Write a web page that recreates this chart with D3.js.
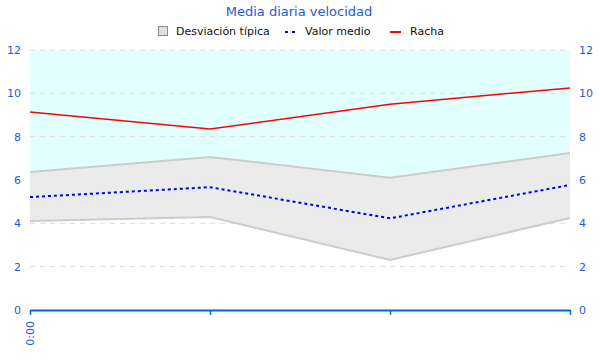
<!DOCTYPE html>
<html><head><meta charset="utf-8">
<script src="https://cdn.jsdelivr.net/npm/d3@7"></script>
<style>body{margin:0;background:#fff}svg{display:block;font-family:"DejaVu Sans",sans-serif}</style>
</head><body><svg id="c" width="600" height="360"></svg>
<script>
const categories = ["0:00", "", "", ""];
const stdUpper = [6.37, 7.06, 6.1, 7.25];
const stdLower = [4.11, 4.29, 2.31, 4.25];
const meanVals = [5.21, 5.67, 4.23, 5.77];
const gustVals = [9.14, 8.35, 9.5, 10.25];
const yTicks = [0, 2, 4, 6, 8, 10, 12];

const svg = d3.select("#c");
const L = 30, R = 570, T = 50, B = 310;
const x = d3.scalePoint().domain(d3.range(categories.length)).range([L, R]);
const y = d3.scaleLinear().domain([0, 12]).range([B, T]);
const blue = "#1f5bd6";

// cyan area above band
svg.append("path").datum(d3.range(categories.length))
  .attr("d", d3.area().x(i => x(i)).y0(y(12)).y1(i => y(stdUpper[i])))
  .attr("fill", "#e2ffff");

// grid
svg.append("g").selectAll("line").data(yTicks.filter(t => t > 0)).join("line")
  .attr("x1", L).attr("x2", R).attr("y1", d => y(d)).attr("y2", d => y(d))
  .attr("stroke", "#dcdcdc").attr("stroke-dasharray", "5,5");

// band
const idx = d3.range(categories.length);
svg.append("path").datum(idx)
  .attr("d", d3.area().x(i => x(i)).y0(i => y(stdLower[i])).y1(i => y(stdUpper[i])))
  .attr("fill", "#ebebeb");
[stdUpper, stdLower].forEach(arr => {
  svg.append("path").datum(idx)
    .attr("d", d3.line().x(i => x(i)).y(i => y(arr[i])))
    .attr("fill", "none").attr("stroke", "#cccccc").attr("stroke-width", 2);
});
svg.append("path").datum(idx)
  .attr("d", d3.line().x(i => x(i)).y(i => y(meanVals[i])))
  .attr("fill", "none").attr("stroke", "#0000ee").attr("stroke-width", 2).attr("stroke-dasharray", "3,3");
svg.append("path").datum(idx)
  .attr("d", d3.line().x(i => x(i)).y(i => y(gustVals[i])))
  .attr("fill", "none").attr("stroke", "#ff0000").attr("stroke-width", 1.5);

// y labels
svg.append("g").selectAll("text").data(yTicks).join("text")
  .attr("x", 21).attr("y", d => y(d)).attr("dy", "0.35em").attr("text-anchor", "end")
  .attr("fill", blue).attr("font-size", 11).text(d => d);
svg.append("g").selectAll("text").data(yTicks).join("text")
  .attr("x", 579).attr("y", d => y(d)).attr("dy", "0.35em").attr("text-anchor", "start")
  .attr("fill", blue).attr("font-size", 11).text(d => d);

// x axis
const xa = svg.append("g").attr("transform", `translate(0,${B})`)
  .call(d3.axisBottom(x).tickSize(5).tickSizeOuter(0).tickFormat(() => ""));
xa.select(".domain").attr("stroke", "#0066cc").attr("stroke-width", 2);
xa.selectAll(".tick line").attr("stroke", "#0066cc").attr("stroke-width", 1.5);
svg.append("g").selectAll("text").data(categories).join("text")
  .attr("transform", (d, i) => `translate(${x(i) + 4},321) rotate(-90)`)
  .attr("text-anchor", "end").attr("fill", blue).attr("font-size", 11).text(d => d);

// title
svg.append("text").attr("x", 299).attr("y", 16).attr("text-anchor", "middle")
  .attr("fill", blue).attr("font-size", 13).text("Media diaria velocidad");

// legend
const lg = svg.append("g").attr("font-size", 11).attr("fill", "#111");
lg.append("rect").attr("x", 158.5).attr("y", 26.5).attr("width", 9).attr("height", 9)
  .attr("fill", "#e0e0e0").attr("stroke", "#888");
lg.append("text").attr("x", 176).attr("y", 35).text("Desviación típica");
lg.append("line").attr("x1", 285).attr("x2", 297).attr("y1", 32).attr("y2", 32)
  .attr("stroke", "#0000ee").attr("stroke-width", 2).attr("stroke-dasharray", "3,4");
lg.append("text").attr("x", 305).attr("y", 35).text("Valor medio");
lg.append("line").attr("x1", 390).attr("x2", 401).attr("y1", 32).attr("y2", 32)
  .attr("stroke", "#ff0000").attr("stroke-width", 2);
lg.append("text").attr("x", 410).attr("y", 35).text("Racha");
</script></body></html>
